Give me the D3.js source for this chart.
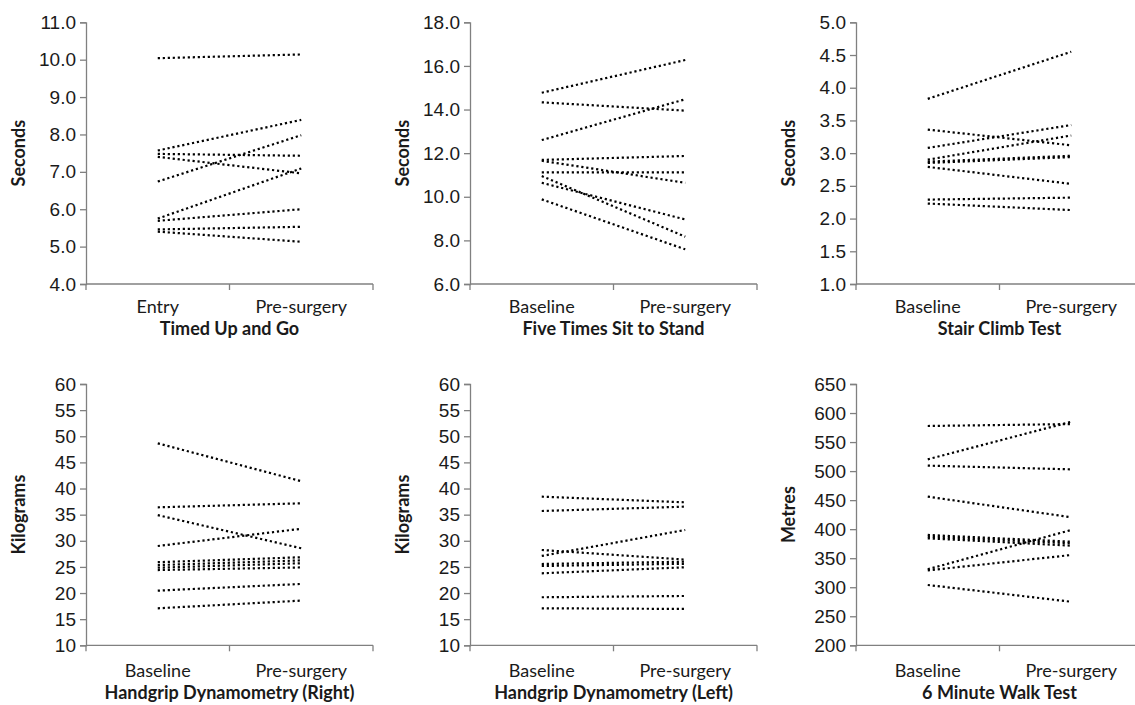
<!DOCTYPE html>
<html>
<head>
<meta charset="utf-8">
<script src="https://cdn.jsdelivr.net/npm/d3@7"></script>
<style>
    body { margin: 0; background: #fff; }
    svg { display: block; font-family: Lato, "Open Sans", sans-serif; }
    .tick text { fill: #1a1a1a; }
</style>
</head>
<body>
<div id="chart"></div>
<script>
// categories
const entryCats = ['Entry', 'Pre-surgery'];
const baseCats = ['Baseline', 'Pre-surgery'];

// Timed Up and Go (seconds)
const tugEntry = [10.04, 7.57, 7.48, 7.40, 6.74, 5.75, 5.69, 5.46, 5.40];
const tugPre   = [10.14, 8.39, 7.43, 6.96, 7.98, 7.09, 6.00, 5.53, 5.13];

// Five Times Sit to Stand (seconds)
const stsBase = [14.77, 14.33, 12.60, 11.69, 11.65, 11.12, 10.95, 10.64, 9.88];
const stsPre  = [16.27, 13.95, 14.47, 11.87, 10.64, 11.12, 8.17, 8.96, 7.59];

// Stair Climb Test (seconds)
const sctBase = [3.83, 3.36, 3.08, 2.90, 2.87, 2.85, 2.79, 2.29, 2.23];
const sctPre  = [4.55, 3.12, 3.43, 3.27, 2.96, 2.94, 2.53, 2.32, 2.13];

// Handgrip right (kg)
const hgrBase = [48.65, 36.4, 34.9, 29.0, 25.9, 25.35, 24.85, 24.4, 20.46, 17.08];
const hgrPre  = [41.4, 37.17, 28.56, 32.3, 26.85, 26.25, 25.7, 24.9, 21.74, 18.55];

// Handgrip left (kg)
const hglBase = [38.44, 35.7, 28.24, 27.1, 25.56, 25.18, 23.78, 19.19, 17.08];
const hglPre  = [37.36, 36.53, 26.4, 32.07, 26.0, 25.6, 24.93, 19.44, 16.96];

// 6 minute walk (metres)
const mwtBase = [577.7, 520.3, 509.4, 456, 390, 387, 384.3, 331, 329, 303.9];
const mwtPre  = [581, 585, 503, 420.5, 378.4, 375.6, 371.5, 398.6, 355.5, 275];

// y tick values
const tugTicks = d3.range(4, 11.01, 1);
const stsTicks = d3.range(6, 18.01, 2);
const sctTicks = d3.range(1, 5.01, 0.5);
const hgTicks = d3.range(10, 60.01, 5);
const mwtTicks = d3.range(200, 650.01, 50);

const panels = [
    { title: 'Timed Up and Go', yTitle: 'Seconds', cats: entryCats, a: tugEntry, b: tugPre, ticks: tugTicks, fmt: '.1f', col: 0, row: 0 },
    { title: 'Five Times Sit to Stand', yTitle: 'Seconds', cats: baseCats, a: stsBase, b: stsPre, ticks: stsTicks, fmt: '.1f', col: 1, row: 0 },
    { title: 'Stair Climb Test', yTitle: 'Seconds', cats: baseCats, a: sctBase, b: sctPre, ticks: sctTicks, fmt: '.1f', col: 2, row: 0 },
    { title: 'Handgrip Dynamometry (Right)', yTitle: 'Kilograms', cats: baseCats, a: hgrBase, b: hgrPre, ticks: hgTicks, fmt: 'd', col: 0, row: 1 },
    { title: 'Handgrip Dynamometry (Left)', yTitle: 'Kilograms', cats: baseCats, a: hglBase, b: hglPre, ticks: hgTicks, fmt: 'd', col: 1, row: 1 },
    { title: '6 Minute Walk Test', yTitle: 'Metres', cats: baseCats, a: mwtBase, b: mwtPre, ticks: mwtTicks, fmt: 'd', col: 2, row: 1 }
];

const width = 1135, height = 705;
const colX = [86, 470, 856];       // y axis position per column
const rowY = [[22.3, 284], [384, 645.3]]; // top / bottom of plot per row
const catGap = [29, 32], titleGap = [51, 54];
const plotW = 287;
const tickFont = '19px', labelFont = '18px';

const svg = d3.select('#chart')
    .append('svg')
    .attr('width', width)
    .attr('height', height);

panels.forEach(p => {
    const x0 = colX[p.col];
    const [top, bottom] = rowY[p.row];

    const xScale = d3.scaleBand()
        .domain(p.cats)
        .range([x0, x0 + plotW])
        .padding(0);

    const yScale = d3.scaleLinear()
        .domain([p.ticks[0], p.ticks[p.ticks.length - 1]])
        .range([bottom, top]);

    const g = svg.append('g');

    // y axis
    const yAxis = d3.axisLeft(yScale)
        .tickValues(p.ticks)
        .tickFormat(d3.format(p.fmt))
        .tickSize(6)
        .tickPadding(4);

    g.append('g')
        .attr('transform', `translate(${x0},0)`)
        .call(yAxis)
        .call(s => s.selectAll('path, line').attr('stroke', '#808080').attr('stroke-width', 1.3))
        .call(s => s.selectAll('text').style('font-size', tickFont).attr('font-family', null));

    // x axis: ticks on band boundaries
    g.append('line')
        .attr('x1', x0).attr('x2', x0 + plotW)
        .attr('y1', bottom).attr('y2', bottom)
        .attr('stroke', '#808080').attr('stroke-width', 1.3);

    g.selectAll('.xtick')
        .data([x0, x0 + xScale.bandwidth(), x0 + plotW])
        .enter()
        .append('line')
        .attr('x1', d => d).attr('x2', d => d)
        .attr('y1', bottom).attr('y2', bottom + 6)
        .attr('stroke', '#808080').attr('stroke-width', 1.3);

    g.selectAll('.xlabel')
        .data(p.cats)
        .enter()
        .append('text')
        .attr('x', d => xScale(d) + xScale.bandwidth() / 2)
        .attr('y', bottom + catGap[p.row])
        .attr('text-anchor', 'middle')
        .attr('fill', '#1a1a1a')
        .style('font-size', labelFont)
        .text(d => d);

    // titles
    g.append('text')
        .attr('x', x0 + xScale.bandwidth())
        .attr('y', bottom + titleGap[p.row])
        .attr('text-anchor', 'middle')
        .attr('fill', '#1a1a1a')
        .style('font-size', labelFont)
        .style('font-weight', 'bold')
        .text(p.title);

    g.append('text')
        .attr('transform', `translate(${x0 - 61},${(top + bottom) / 2}) rotate(-90)`)
        .attr('text-anchor', 'middle')
        .attr('fill', '#1a1a1a')
        .style('font-size', labelFont)
        .style('font-weight', 'bold')
        .text(p.yTitle);

    // paired lines
    const pairs = p.a.map((v, i) => [v, p.b[i]]);
    const line = d3.line()
        .x((d, i) => xScale(p.cats[i]) + xScale.bandwidth() / 2)
        .y(d => yScale(d));

    g.selectAll('.pair')
        .data(pairs)
        .enter()
        .append('path')
        .attr('d', d => line(d))
        .attr('fill', 'none')
        .attr('stroke', '#000')
        .attr('stroke-width', 2.2)
        .attr('stroke-dasharray', '2.2 2.8');
});
</script>
</body>
</html>
